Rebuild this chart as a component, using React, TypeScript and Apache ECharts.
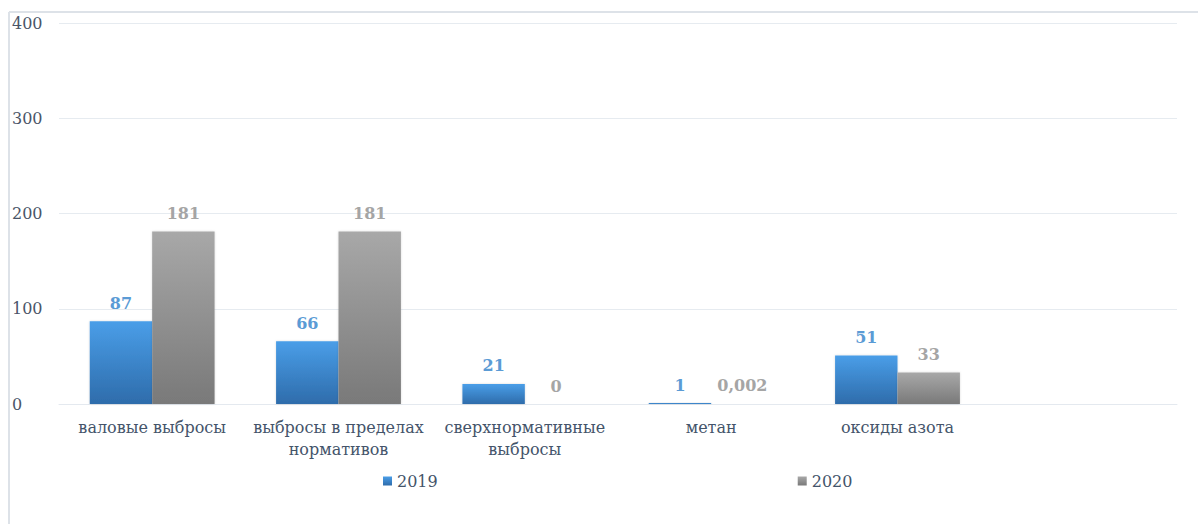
import React, { useEffect, useRef } from "react";
import * as echarts from "echarts";

const categories = [
  "валовые выбросы",
  "выбросы в пределах\nнормативов",
  "сверхнормативные\nвыбросы",
  "метан",
  "оксиды азота",
  "",
];
const series2019 = [87, 66, 21, 1, 51, null];
const series2020 = [181, 181, 0, 0.002, 33, null];
const yTicks = [0, 100, 200, 300, 400];

const FONT = "DejaVu Serif";

export default function App() {
  const ref = useRef<HTMLDivElement>(null);
  useEffect(() => {
    if (!ref.current) return;
    const chart = echarts.init(ref.current, undefined, { renderer: "svg" });
    const fmt = (p: any) => String(p.value).replace(".", ",");
    chart.setOption({
      animation: false,
      backgroundColor: "#ffffff",
      textStyle: { fontFamily: FONT },
      grid: { left: 59, right: 21, top: 23, bottom: 120, containLabel: false },
      legend: {
        data: ["2019", "2020"],
        left: 378,
        top: 468,
        icon: "rect",
        itemWidth: 9,
        itemHeight: 9,
        itemGap: 360,
        textStyle: { fontFamily: FONT, fontSize: 16, color: "#44546a" },
      },
      xAxis: {
        type: "category",
        data: categories,
        axisTick: { show: false },
        axisLine: { lineStyle: { color: "#e4e9ef", width: 1 } },
        axisLabel: {
          fontFamily: FONT,
          fontSize: 16,
          color: "#44546a",
          lineHeight: 22,
          margin: 12,
          interval: 0,
        },
      },
      yAxis: {
        type: "value",
        min: 0,
        max: yTicks[yTicks.length - 1],
        interval: 100,
        axisLine: { show: false },
        axisTick: { show: false },
        splitLine: { lineStyle: { color: "#e6ebf0", width: 1 } },
        axisLabel: {
          fontFamily: FONT,
          fontSize: 16,
          color: "#4a5568",
          align: "left",
          margin: 47,
        },
      },
      series: [
        {
          name: "2019",
          type: "bar",
          data: series2019,
          barGap: "0%",
          barCategoryGap: "33%",
          itemStyle: {
            color: new echarts.graphic.LinearGradient(0, 0, 0, 1, [
              { offset: 0, color: "#4a9ee8" },
              { offset: 1, color: "#2e6cab" },
            ]),
            shadowBlur: 2,
            shadowColor: "rgba(0,0,0,0.15)",
          },
          label: {
            show: true,
            position: "top",
            distance: 10,
            fontFamily: FONT,
            fontSize: 16,
            fontWeight: "bold",
            color: "#5b9bd5",
            formatter: fmt,
          },
        },
        {
          name: "2020",
          type: "bar",
          data: series2020,
          itemStyle: {
            color: new echarts.graphic.LinearGradient(0, 0, 0, 1, [
              { offset: 0, color: "#a8a8a8" },
              { offset: 1, color: "#797979" },
            ]),
            shadowBlur: 2,
            shadowColor: "rgba(0,0,0,0.15)",
          },
          label: {
            show: true,
            position: "top",
            distance: 10,
            fontFamily: FONT,
            fontSize: 16,
            fontWeight: "bold",
            color: "#a5a5a5",
            formatter: fmt,
          },
        },
      ],
      graphic: [
        {
          type: "line",
          shape: { x1: 9, y1: 12, x2: 1198, y2: 12 },
          style: { stroke: "#dde2e8", lineWidth: 2 },
          silent: true,
        },
        {
          type: "line",
          shape: { x1: 9, y1: 12, x2: 9, y2: 524 },
          style: { stroke: "#dde2e8", lineWidth: 2 },
          silent: true,
        },
      ],
    });
    return () => chart.dispose();
  }, []);
  return (
    <div
      ref={ref}
      style={{ position: "fixed", left: 0, top: 0, width: 1198, height: 524 }}
    />
  );
}
